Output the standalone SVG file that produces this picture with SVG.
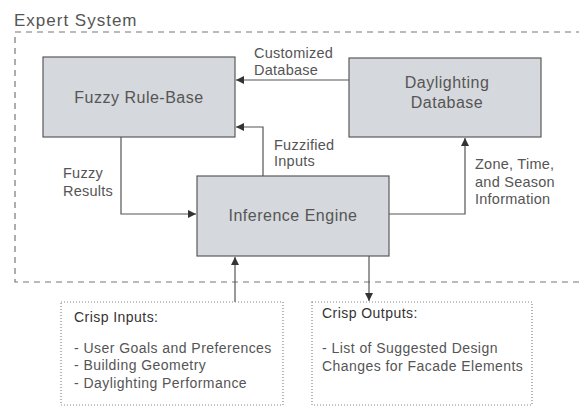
<svg xmlns="http://www.w3.org/2000/svg" width="579" height="407" viewBox="0 0 579 407">
<defs>
<style>
text{font-family:"Liberation Sans",Arial,sans-serif;fill:#555}
.lbl{font-size:14.5px;letter-spacing:0.25px}
.node{font-size:16px;letter-spacing:0.5px;text-anchor:middle}
.box{fill:#d5d8dc;stroke:#5a5a5a;stroke-width:1.2}
.line{fill:none;stroke:#555;stroke-width:1.2}
.dot{fill:none;stroke:#888;stroke-width:1.2;stroke-dasharray:1 2}
.lst{font-size:14px;letter-spacing:0.45px}
</style>
<marker id="ah" viewBox="0 0 10 10" refX="10" refY="5" markerWidth="9" markerHeight="8" markerUnits="userSpaceOnUse" orient="auto">
<path d="M0,0 L10,5 L0,10 z" fill="#333"/>
</marker>
</defs>
<rect width="579" height="407" fill="#fff"/>
<g id="expert-system">
<text x="14" y="26" style="font-size:17px;letter-spacing:1px">Expert System</text>
<path d="M582,32 H15 V282 H582" fill="none" stroke="#777" stroke-width="1.2" stroke-dasharray="6 5"/>
</g>
<g id="connectors">
<path class="line" d="M349,80 H236" marker-end="url(#ah)"/>
<path class="line" d="M263,176 V127 H236" marker-end="url(#ah)"/>
<path class="line" d="M121,137 V214 H196" marker-end="url(#ah)"/>
<path class="line" d="M389,214 H465 V138" marker-end="url(#ah)"/>
<path class="line" d="M235,302 V257" marker-end="url(#ah)"/>
<path class="line" d="M369,256 V301" marker-end="url(#ah)"/>
<text class="lbl" x="254" y="58">Customized</text>
<text class="lbl" x="254" y="75">Database</text>
<text class="lbl" x="274" y="150">Fuzzified</text>
<text class="lbl" x="274" y="166">Inputs</text>
<text class="lbl" x="63" y="178">Fuzzy</text>
<text class="lbl" x="63" y="196">Results</text>
<text class="lbl" x="475" y="169">Zone, Time,</text>
<text class="lbl" x="475" y="187">and Season</text>
<text class="lbl" x="475" y="204">Information</text>
</g>
<g id="fuzzy-rule-base">
<rect class="box" x="43" y="57" width="192" height="80"/>
<text class="node" x="139" y="103">Fuzzy Rule-Base</text>
</g>
<g id="daylighting-database">
<rect class="box" x="349" y="58" width="192" height="79"/>
<text class="node" x="447" y="88">Daylighting</text>
<text class="node" x="447" y="108">Database</text>
</g>
<g id="inference-engine">
<rect class="box" x="197" y="176" width="192" height="80"/>
<text class="node" x="293" y="221">Inference Engine</text>
</g>
<g id="crisp-inputs">
<rect class="dot" x="61" y="302" width="222" height="103"/>
<text class="lst" x="74" y="322" style="fill:#333">Crisp Inputs:</text>
<text class="lst" x="74" y="353">- User Goals and Preferences</text>
<text class="lst" x="74" y="370">- Building Geometry</text>
<text class="lst" x="74" y="388">- Daylighting Performance</text>
</g>
<g id="crisp-outputs">
<rect class="dot" x="312" y="302" width="220" height="103"/>
<text class="lst" x="322" y="318" style="fill:#333">Crisp Outputs:</text>
<text class="lst" x="322" y="353">- List of Suggested Design</text>
<text class="lst" x="322" y="371">Changes for Facade Elements</text>
</g>
</svg>
